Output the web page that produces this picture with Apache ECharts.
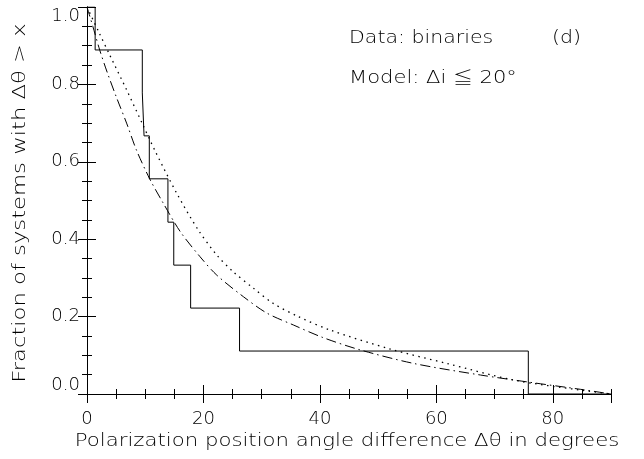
<!DOCTYPE html>
<html>
<head>
<meta charset="utf-8">
<script src="https://cdn.jsdelivr.net/npm/echarts@6/dist/echarts.min.js"></script>
<style>
html,body{margin:0;padding:0;background:#fff;}
#chart{width:644px;height:459px;}
</style>
</head>
<body>
<div id="chart"></div>
<script>
// Sorted position-angle differences of the binaries (degrees)
const dataTheta = [0, 1.4, 9.5, 9.8, 10.7, 13.9, 14.9, 17.8, 26.2, 75.8, 90];
// Fraction of systems with Δθ > x after each step
const dataFrac = [1.0, 0.889, 0.778, 0.667, 0.556, 0.444, 0.333, 0.222, 0.111, 0.0, 0.0];

// Model curve (dotted)
const dotX = [0, 2.0, 4.0, 6.8, 9.4, 11.7, 15.4, 19.1, 22.3, 25.1, 28.6, 32.0, 36.3, 41.8, 52.1, 61.8, 73.3, 84.8, 90];
const dotY = [1.0, 0.936, 0.873, 0.786, 0.702, 0.628, 0.519, 0.424, 0.359, 0.316, 0.273, 0.234, 0.200, 0.165, 0.116, 0.079, 0.036, 0.010, 0.0];

// Model curve (dash-dot)
const ddX = [0, 1.0, 2.2, 3.5, 5.1, 6.8, 8.5, 10.8, 13.1, 16.0, 19.4, 22.3, 26.9, 30.9, 35.5, 40.5, 46.9, 56.1, 67.6, 76.2, 84.8, 90];
const ddY = [1.0, 0.950, 0.888, 0.830, 0.765, 0.700, 0.630, 0.555, 0.493, 0.420, 0.355, 0.307, 0.251, 0.209, 0.178, 0.146, 0.114, 0.079, 0.049, 0.030, 0.012, 0.0];

const xTickLabels = ['0', '20', '40', '60', '80'];
const yTickLabels = ['0.0', '0.2', '0.4', '0.6', '0.8', '1.0'];
const xTitle = 'Polarization position angle difference Δθ in degrees';
const yTitle = 'Fraction of systems with Δθ > x';

const zip = (a, b) => a.map((v, i) => [v, b[i]]);
const FONT = '"DejaVu Sans", sans-serif';
const INK = '#000';
const TXT = '200 18px "DejaVu Sans", sans-serif';

const chart = echarts.init(document.getElementById('chart'), null, {renderer: 'canvas'});
const gridRect = {left: 87, right: 33, top: 7, bottom: 65};

function xAx(grid, pos, interval, tickLen, withLabels, withLine) {
  return {
    type: 'value', gridIndex: grid, position: pos, min: 0, max: 90, interval: interval,
    axisLine: {show: withLine, lineStyle: {color: INK, width: 1}},
    axisTick: {show: true, inside: true, length: tickLen, lineStyle: {color: INK, width: 1}},
    axisLabel: withLabels ? {
      show: true, margin: 16, color: INK, fontFamily: FONT, fontSize: 18, fontWeight: 200,
      showMaxLabel: false,
      formatter: v => { const i = xTickLabels.indexOf(String(v)); return i >= 0 ? xTickLabels[i] : ''; }
    } : {show: false},
    splitLine: {show: false}
  };
}
function yAx(grid, pos, withLabels, show) {
  return {
    type: 'value', gridIndex: grid, position: pos, min: 0, max: 1, interval: 0.2, show: show,
    axisLine: {show: true, lineStyle: {color: INK, width: 1}},
    axisTick: {show: true, inside: true, length: 9, lineStyle: {color: INK, width: 1}},
    minorTick: {show: true, splitNumber: 4, length: 5, lineStyle: {color: INK, width: 1}},
    axisLabel: withLabels ? {
      show: true, margin: 7, color: INK, fontFamily: FONT, fontSize: 18, fontWeight: 200,
      verticalAlignMinLabel: 'bottom', verticalAlignMaxLabel: 'top',
      formatter: v => yTickLabels[Math.round(v * 5)]
    } : {show: false},
    splitLine: {show: false}
  };
}

chart.setOption({
  animation: false,
  backgroundColor: '#fff',
  grid: [Object.assign({}, gridRect), Object.assign({}, gridRect)],
  xAxis: [
    xAx(0, 'bottom', 20, 9, true, true),
    xAx(0, 'top', 20, 9, false, true),
    xAx(1, 'bottom', 5, 5, false, false),
    xAx(1, 'top', 5, 5, false, false)
  ],
  yAxis: [
    yAx(0, 'left', true, true),
    yAx(0, 'right', false, true),
    yAx(1, 'left', false, false),
    yAx(1, 'right', false, false)
  ],
  series: [
    {
      type: 'line', xAxisIndex: 0, yAxisIndex: 0, step: 'end', symbol: 'none',
      data: zip(dataTheta, dataFrac),
      lineStyle: {color: INK, width: 1}
    },
    {
      type: 'line', xAxisIndex: 0, yAxisIndex: 0, symbol: 'none', smooth: 0.3,
      data: zip(dotX, dotY),
      lineStyle: {color: INK, width: 1.3, type: [1.5, 4.5]}
    },
    {
      type: 'line', xAxisIndex: 0, yAxisIndex: 0, symbol: 'none', smooth: 0.3,
      data: zip(ddX, ddY),
      lineStyle: {color: INK, width: 1, type: [10, 4, 1.5, 4]}
    }
  ],
  graphic: [
    {type: 'text', x: 347, y: 441, scaleX: 1.18,
     style: {text: xTitle, fill: INK, font: TXT, align: 'center', verticalAlign: 'middle'}},
    {type: 'text', x: 20, y: 203, rotation: Math.PI / 2, scaleX: 1.26,
     style: {text: yTitle, fill: INK, font: TXT, align: 'center', verticalAlign: 'middle'}},
    {type: 'text', x: 349, y: 38, scaleX: 1.14,
     style: {text: 'Data: binaries', fill: INK, font: TXT, align: 'left', verticalAlign: 'middle'}},
    {type: 'text', x: 552, y: 38, scaleX: 1.14,
     style: {text: '(d)', fill: INK, font: TXT, align: 'left', verticalAlign: 'middle'}},
    {type: 'text', x: 349, y: 78, scaleX: 1.17,
     style: {
       text: '{a|Model: Δi }{b|≦}{a| 20°}', fill: INK, font: TXT, align: 'left', verticalAlign: 'middle',
       rich: {
         a: {fontFamily: FONT, fontSize: 18, fontWeight: 200, fill: INK},
         b: {fontFamily: '"Noto Sans CJK JP"', fontSize: 17, fontWeight: 300, fill: INK}
       }
     }}
  ]
});
</script>
</body>
</html>
